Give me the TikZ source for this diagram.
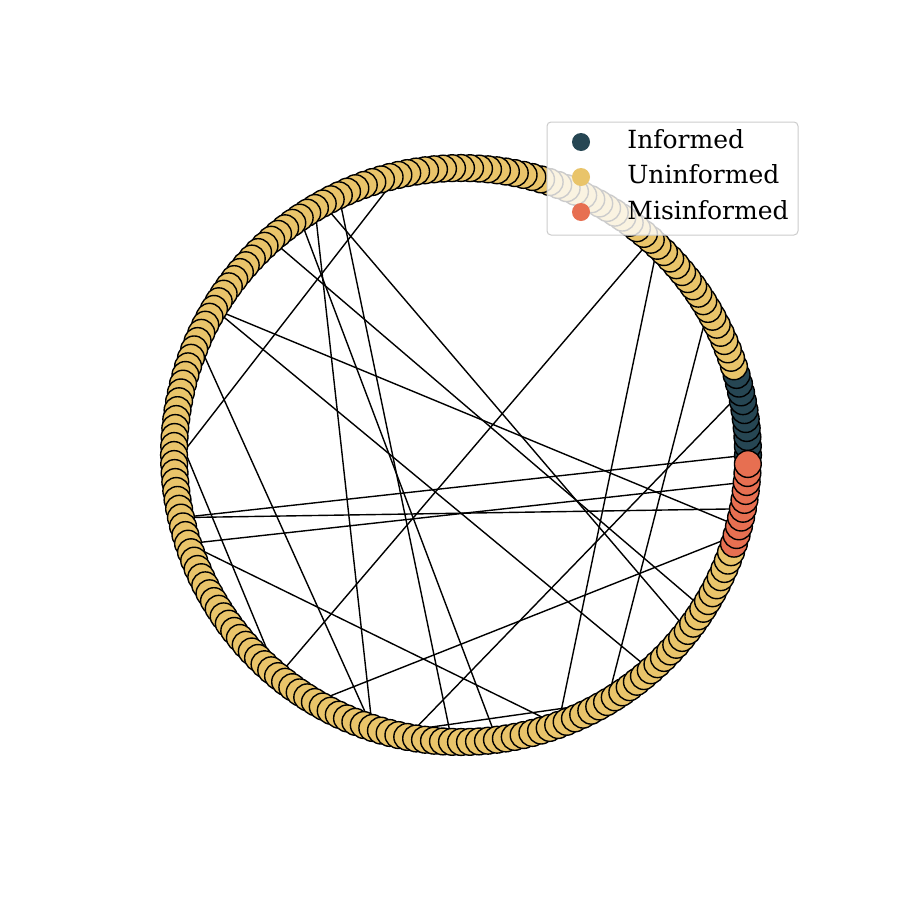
\documentclass[tikz,border=0pt]{standalone}
\usepackage{fontspec}
\setmainfont{DejaVu Serif}
\definecolor{infcol}{HTML}{264653}
\definecolor{unicol}{HTML}{E9C46A}
\definecolor{miscol}{HTML}{E76F51}
\pgfdeclarelayer{edgelayer}
\pgfdeclarelayer{legendlayer}
\pgfsetlayers{edgelayer,main,legendlayer}
\begin{document}
\begin{tikzpicture}[x=0.5pt,y=-0.5pt,
  vtx/.style={circle, draw=black, line width=0.7pt, minimum size=13.4pt, inner sep=0pt},
  link/.style={black, line width=0.7pt},
  legbox/.style={draw=black!20, fill=white, fill opacity=0.8, rounded corners=2pt, line width=0.5pt, inner sep=0pt},
  legdot/.style={circle, minimum size=9pt, inner sep=0pt},
  legtext/.style={anchor=base west, inner sep=0pt, font=\fontsize{12.5}{15}\selectfont}]
\useasboundingbox (0,0) rectangle (900,900);
\foreach \i in {0,...,199}{
  \pgfmathsetmacro\ang{1.8*\i}
  \ifnum\i<10 \def\col{infcol}\else\ifnum\i>189 \def\col{miscol}\else\def\col{unicol}\fi\fi
  \node[vtx, fill=\col] (n\i) at ({461+287*cos(\ang)},{455-287*sin(\ang)}) {};
}
\begin{pgfonlayer}{edgelayer}
\foreach \a/\b in {57/101, 27/128, 26/161, 17/167, 7/144, 0/107, 107/194, 110/197, 83/192, 133/191, 64/149, 67/140, 69/154, 87/140, 97/128, 83/173, 66/179, 73/182, 110/161, 142/167}
  \draw[link] (n\a.center) -- (n\b.center);
\end{pgfonlayer}
\begin{pgfonlayer}{legendlayer}
\node[legbox, minimum width=125.5pt, minimum height=56.5pt] (legend) at (672.5,178.5) {};
\node[legdot, fill=infcol] (m1) at (581,142) {};
\node[legdot, fill=unicol] (m2) at (581,177) {};
\node[legdot, fill=miscol] (m3) at (581,212) {};
\node[legtext] (t1) at (627,148) {Informed};
\node[legtext] (t2) at (627,183.5) {Uninformed};
\node[legtext] (t3) at (627,219) {Misinformed};
\end{pgfonlayer}
\end{tikzpicture}
\end{document}
